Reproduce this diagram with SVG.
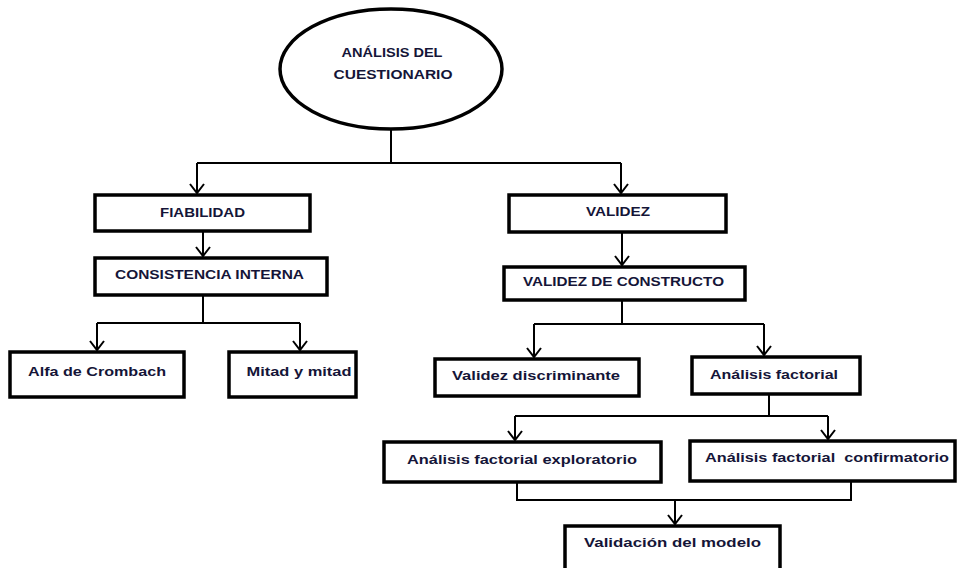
<svg xmlns="http://www.w3.org/2000/svg" width="957" height="568" viewBox="0 0 957 568">
<style>
.box{fill:#fff;stroke:#000;stroke-width:3.5}
.t{font-family:"Liberation Sans",Arial,sans-serif;font-weight:bold;font-size:13.5px;fill:#151538;text-anchor:middle}
.c{fill:none;stroke:#000;stroke-width:2}
</style>
<defs>
<marker id="ah" markerUnits="userSpaceOnUse" markerWidth="20" markerHeight="20" viewBox="-10 -10 20 20" refX="0" refY="0" orient="auto">
<path d="M-9,-7 L0,0 L-9,7" fill="none" stroke="#000" stroke-width="2"/>
</marker>
</defs>
<rect width="957" height="568" fill="#fff"/>
<g id="connectors">
<path class="c" d="M391,129 V163"/>
<path class="c" d="M197,163 H621"/>
<path class="c" d="M197,163 V193" marker-end="url(#ah)"/>
<path class="c" d="M621,163 V193" marker-end="url(#ah)"/>
<path class="c" d="M203,231 V256" marker-end="url(#ah)"/>
<path class="c" d="M203,295 V323 M97,323 H300"/>
<path class="c" d="M97,323 V350" marker-end="url(#ah)"/>
<path class="c" d="M300,323 V350" marker-end="url(#ah)"/>
<path class="c" d="M622,232 V265" marker-end="url(#ah)"/>
<path class="c" d="M622,300 V324 M534,324 H764"/>
<path class="c" d="M534,324 V357" marker-end="url(#ah)"/>
<path class="c" d="M764,324 V355" marker-end="url(#ah)"/>
<path class="c" d="M769,394 V416 M515,416 H828"/>
<path class="c" d="M515,416 V440" marker-end="url(#ah)"/>
<path class="c" d="M828,416 V439" marker-end="url(#ah)"/>
<path class="c" d="M517,482 V500 H851 V481"/>
<path class="c" d="M675,500 V524" marker-end="url(#ah)"/>
</g>
<g id="analisis">
<ellipse cx="391" cy="69" rx="111" ry="60" fill="#fff" stroke="#000" stroke-width="3.5"/>
<text class="t" x="392" y="57" textLength="101" lengthAdjust="spacingAndGlyphs">ANÁLISIS DEL</text>
<text class="t" x="393" y="79" textLength="119" lengthAdjust="spacingAndGlyphs">CUESTIONARIO</text>
</g>
<g id="fiabilidad">
<rect class="box" x="95" y="195" width="215" height="36"/>
<text class="t" x="202.5" y="217" textLength="85" lengthAdjust="spacingAndGlyphs">FIABILIDAD</text>
</g>
<g id="consistencia">
<rect class="box" x="95" y="258" width="232" height="37"/>
<text class="t" x="209.5" y="279" textLength="189" lengthAdjust="spacingAndGlyphs">CONSISTENCIA INTERNA</text>
</g>
<g id="alfa">
<rect class="box" x="10" y="352" width="174" height="45"/>
<text class="t" x="97" y="376" textLength="138" lengthAdjust="spacingAndGlyphs">Alfa de Crombach</text>
</g>
<g id="mitad">
<rect class="box" x="229" y="352" width="127" height="45"/>
<text class="t" x="299" y="376" textLength="105" lengthAdjust="spacingAndGlyphs">Mitad y mitad</text>
</g>
<g id="validez">
<rect class="box" x="509" y="195" width="217" height="37"/>
<text class="t" x="618" y="216" textLength="64" lengthAdjust="spacingAndGlyphs">VALIDEZ</text>
</g>
<g id="constructo">
<rect class="box" x="504" y="267" width="241" height="33"/>
<text class="t" x="623.5" y="286" textLength="201" lengthAdjust="spacingAndGlyphs">VALIDEZ DE CONSTRUCTO</text>
</g>
<g id="discriminante">
<rect class="box" x="435" y="359" width="204" height="37"/>
<text class="t" x="536" y="380" textLength="168" lengthAdjust="spacingAndGlyphs">Validez discriminante</text>
</g>
<g id="factorial">
<rect class="box" x="692" y="357" width="168" height="37"/>
<text class="t" x="774" y="379" textLength="128" lengthAdjust="spacingAndGlyphs">Análisis factorial</text>
</g>
<g id="exploratorio">
<rect class="box" x="384" y="442" width="277" height="40"/>
<text class="t" x="522" y="464" textLength="230" lengthAdjust="spacingAndGlyphs">Análisis factorial exploratorio</text>
</g>
<g id="confirmatorio">
<rect class="box" x="690" y="441" width="265" height="40"/>
<text class="t" x="827" y="462" textLength="244" lengthAdjust="spacingAndGlyphs" xml:space="preserve">Análisis factorial  confirmatorio</text>
</g>
<g id="validacion">
<rect class="box" x="565" y="526" width="215" height="50"/>
<text class="t" x="672.5" y="547" textLength="177" lengthAdjust="spacingAndGlyphs">Validación del modelo</text>
</g>
</svg>
